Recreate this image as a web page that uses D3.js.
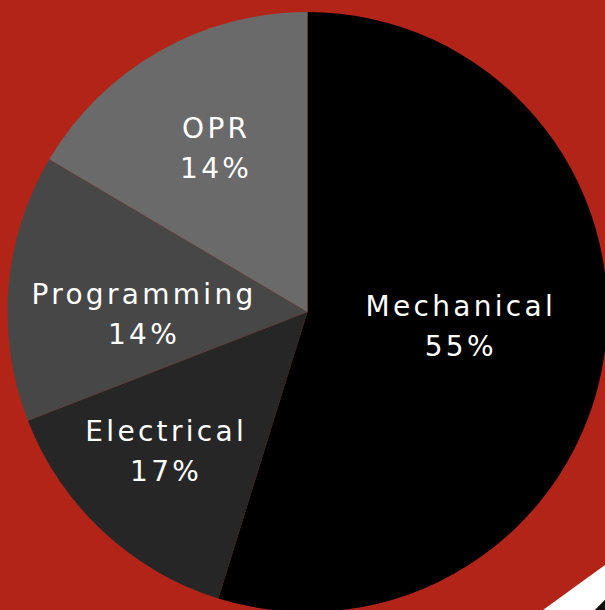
<!DOCTYPE html>
<html>
<head>
<meta charset="utf-8">
<script src="https://cdn.jsdelivr.net/npm/d3@7"></script>
<style>
  html, body { margin: 0; padding: 0; background: #b22418; overflow: hidden; }
  #visualization { width: 605px; height: 610px; }
</style>
</head>
<body>
<div id="visualization"></div>
<script>
// Slice data, clockwise from 12 o'clock
const categories = ['Mechanical', 'Electrical', 'Programming', 'OPR'];
const values = [54.8, 14.3, 14.4, 16.5];
const percentLabels = ['55%', '17%', '14%', '14%'];
const colors = ['#000000', '#262626', '#474747', '#6a6a6a'];

document.addEventListener('DOMContentLoaded', () => {
    d3.select('#visualization').html('');

    const width = 605;
    const height = 610;
    const cx = 307.5;
    const cy = 312;
    const radius = 300;

    const svg = d3.select('#visualization')
        .append('svg')
        .attr('width', width)
        .attr('height', height);

    // decorative stripe in the bottom-right corner
    svg.append('polygon')
        .attr('points', '543,610 605,565 605,600 595,610')
        .attr('fill', '#ffffff');
    svg.append('polygon')
        .attr('points', '595,610 605,600 605,610')
        .attr('fill', '#0d0d0d');

    const pie = d3.pie().sort(null).value(d => d);
    const arcs = pie(values);

    const arc = d3.arc().innerRadius(0).outerRadius(radius);
    const labelArc = d3.arc().innerRadius(radius / 2).outerRadius(radius / 2);

    const g = svg.append('g')
        .attr('transform', `translate(${cx},${cy})`);

    g.selectAll('path')
        .data(arcs)
        .enter()
        .append('path')
        .attr('d', arc)
        .attr('fill', (d, i) => colors[i]);

    // nudge each label block away from the mid-radius centroid
    const nudge = [[5, -9], [-39, 29], [-14, 14], [-17, -34]];

    const labels = g.selectAll('g.label')
        .data(arcs)
        .enter()
        .append('g')
        .attr('class', 'label')
        .attr('transform', (d, i) => {
            const [x, y] = labelArc.centroid(d);
            return `translate(${x + nudge[i][0]},${y + nudge[i][1]})`;
        });

    const textStyle = sel => sel
        .attr('text-anchor', 'middle')
        .attr('fill', '#ffffff')
        .style('font-family', '"DejaVu Sans", sans-serif')
        .style('font-size', '28px')
        .style('letter-spacing', '3.3px');

    labels.append('text')
        .attr('y', -10)
        .call(textStyle)
        .text((d, i) => categories[i]);

    labels.append('text')
        .attr('y', 30)
        .call(textStyle)
        .text((d, i) => percentLabels[i]);
});
</script>
</body>
</html>
